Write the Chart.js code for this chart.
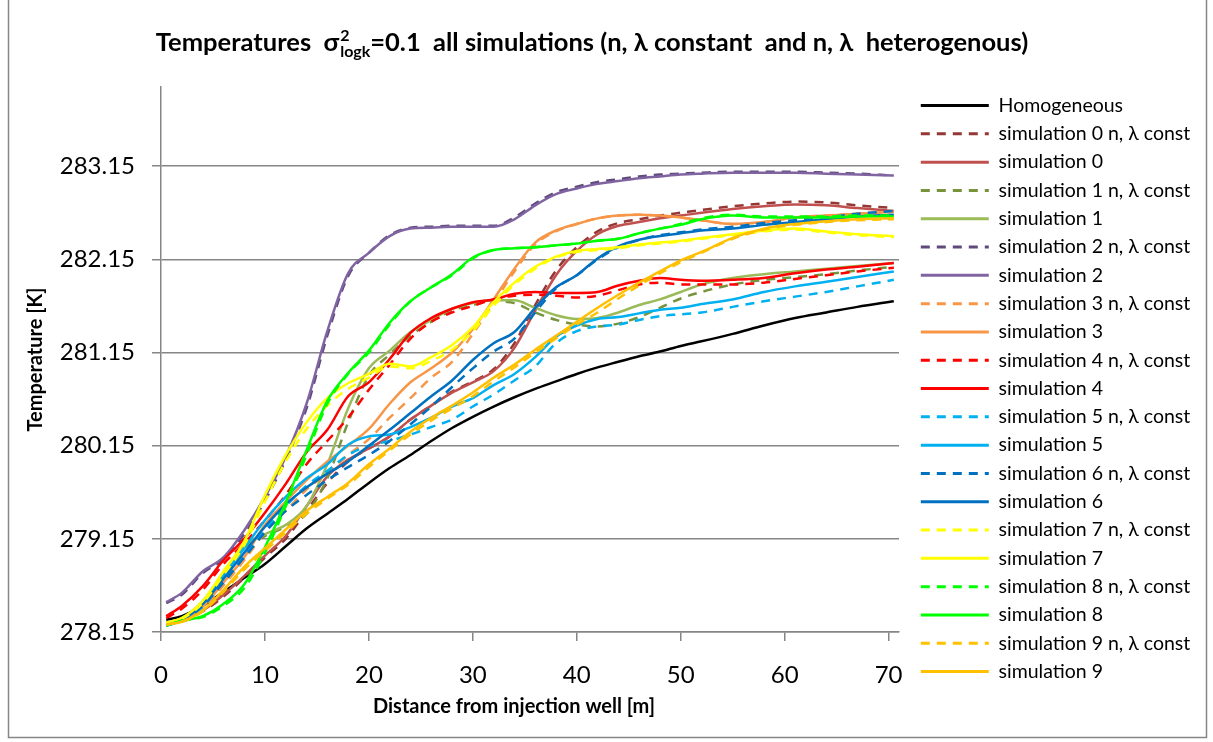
<!DOCTYPE html>
<html>
<head>
<meta charset="utf-8">
<title>Temperatures all simulations</title>
<script src="https://cdn.jsdelivr.net/npm/chart.js@4.4.1/dist/chart.umd.min.js"></script>
<style>
  html, body { margin: 0; padding: 0; background: #ffffff; }
  #wrap { position: relative; width: 1213px; height: 742px; }
</style>
</head>
<body>
<div id="wrap"><canvas id="chart" width="1213" height="742"></canvas></div>
<script>
// Distance from the injection well [m]
const distance = [0.5, 2, 4, 6, 8, 10, 12, 14, 16, 18, 20, 22, 24, 26, 28, 30, 32, 34, 36, 38, 40, 42, 44, 46, 48, 50, 52, 55, 58, 61, 64, 67, 70.5];

// Temperatures [K] along the profile
const homogeneous = [278.28, 278.32, 278.43, 278.58, 278.73, 278.88, 279.07, 279.26, 279.42, 279.58, 279.75, 279.91, 280.05, 280.20, 280.34, 280.46, 280.57, 280.67, 280.76, 280.84, 280.92, 280.99, 281.05, 281.11, 281.16, 281.22, 281.27, 281.35, 281.44, 281.52, 281.58, 281.64, 281.70];

const sim0Const = [278.25, 278.28, 278.37, 278.53, 278.73, 278.95, 279.15, 279.45, 279.75, 279.98, 280.12, 280.25, 280.43, 280.58, 280.73, 280.84, 280.97, 281.25, 281.66, 282.03, 282.28, 282.45, 282.54, 282.58, 282.62, 282.65, 282.68, 282.72, 282.75, 282.77, 282.76, 282.73, 282.70];
const sim0 = [278.25, 278.28, 278.38, 278.55, 278.75, 278.97, 279.18, 279.50, 279.82, 280.00, 280.12, 280.25, 280.43, 280.58, 280.72, 280.83, 280.95, 281.20, 281.60, 281.98, 282.24, 282.42, 282.51, 282.55, 282.59, 282.62, 282.65, 282.69, 282.72, 282.74, 282.73, 282.70, 282.67];

const sim1Const = [278.25, 278.30, 278.46, 278.75, 279.05, 279.18, 279.28, 279.42, 279.80, 280.40, 280.90, 281.13, 281.33, 281.48, 281.60, 281.66, 281.70, 281.68, 281.58, 281.50, 281.45, 281.43, 281.46, 281.53, 281.63, 281.73, 281.80, 281.88, 281.93, 281.96, 281.99, 282.03, 282.07];
const sim1 = [278.25, 278.30, 278.48, 278.78, 279.08, 279.20, 279.30, 279.50, 279.95, 280.55, 280.98, 281.17, 281.37, 281.50, 281.62, 281.68, 281.71, 281.71, 281.63, 281.55, 281.51, 281.52, 281.58, 281.66, 281.72, 281.80, 281.88, 281.95, 281.99, 282.02, 282.05, 282.08, 282.11];

const sim2Const = [278.46, 278.55, 278.78, 278.93, 279.20, 279.56, 280.00, 280.55, 281.33, 281.97, 282.22, 282.41, 282.49, 282.50, 282.51, 282.51, 282.51, 282.60, 282.75, 282.87, 282.93, 282.98, 283.01, 283.04, 283.06, 283.07, 283.08, 283.09, 283.09, 283.09, 283.08, 283.07, 283.05];
const sim2 = [278.47, 278.57, 278.80, 278.95, 279.24, 279.60, 280.03, 280.60, 281.38, 282.00, 282.22, 282.40, 282.48, 282.49, 282.50, 282.50, 282.50, 282.58, 282.73, 282.85, 282.91, 282.96, 282.99, 283.02, 283.04, 283.06, 283.07, 283.08, 283.08, 283.08, 283.07, 283.06, 283.05];

const sim3Const = [278.24, 278.28, 278.40, 278.65, 278.92, 279.22, 279.45, 279.68, 279.85, 280.05, 280.22, 280.45, 280.66, 280.88, 281.05, 281.35, 281.68, 282.02, 282.31, 282.45, 282.53, 282.59, 282.62, 282.63, 282.62, 282.60, 282.57, 282.53, 282.55, 282.60, 282.62, 282.64, 282.66];
const sim3 = [278.24, 278.28, 278.42, 278.68, 278.95, 279.30, 279.55, 279.78, 279.98, 280.15, 280.33, 280.60, 280.83, 280.98, 281.15, 281.40, 281.72, 282.05, 282.33, 282.46, 282.53, 282.59, 282.62, 282.63, 282.62, 282.60, 282.57, 282.53, 282.55, 282.60, 282.62, 282.64, 282.66];

const sim4Const = [278.30, 278.40, 278.60, 278.88, 279.10, 279.35, 279.62, 279.95, 280.20, 280.45, 280.75, 281.02, 281.30, 281.48, 281.58, 281.65, 281.72, 281.76, 281.77, 281.76, 281.74, 281.76, 281.82, 281.88, 281.90, 281.88, 281.88, 281.88, 281.90, 281.94, 281.98, 282.02, 282.06];
const sim4 = [278.32, 278.43, 278.64, 278.92, 279.15, 279.43, 279.74, 280.08, 280.32, 280.68, 280.83, 281.08, 281.36, 281.52, 281.62, 281.69, 281.72, 281.78, 281.80, 281.79, 281.79, 281.80, 281.87, 281.92, 281.95, 281.93, 281.92, 281.93, 281.95, 282.00, 282.04, 282.07, 282.11];

const sim5Const = [278.23, 278.27, 278.42, 278.70, 278.98, 279.25, 279.50, 279.72, 279.88, 280.05, 280.15, 280.20, 280.27, 280.35, 280.43, 280.57, 280.70, 280.85, 281.00, 281.25, 281.38, 281.43, 281.45, 281.50, 281.54, 281.56, 281.58, 281.64, 281.70, 281.75, 281.80, 281.86, 281.93];
const sim5 = [278.24, 278.28, 278.45, 278.75, 279.05, 279.35, 279.60, 279.80, 279.95, 280.16, 280.25, 280.27, 280.35, 280.45, 280.57, 280.66, 280.80, 280.92, 281.10, 281.32, 281.44, 281.51, 281.53, 281.57, 281.61, 281.63, 281.67, 281.72, 281.80, 281.86, 281.91, 281.96, 282.02];

const sim6Const = [278.22, 278.27, 278.43, 278.68, 278.95, 279.22, 279.45, 279.62, 279.78, 279.92, 280.05, 280.20, 280.38, 280.57, 280.78, 280.98, 281.16, 281.30, 281.58, 281.84, 281.98, 282.15, 282.28, 282.36, 282.41, 282.44, 282.47, 282.50, 282.54, 282.57, 282.60, 282.64, 282.67];
const sim6 = [278.22, 278.28, 278.45, 278.72, 279.00, 279.28, 279.52, 279.70, 279.85, 279.98, 280.15, 280.32, 280.50, 280.68, 280.85, 281.07, 281.25, 281.37, 281.63, 281.85, 281.98, 282.16, 282.29, 282.36, 282.40, 282.43, 282.46, 282.48, 282.52, 282.55, 282.58, 282.61, 282.63];

const sim7Const = [278.24, 278.29, 278.46, 278.76, 279.08, 279.55, 279.98, 280.33, 280.58, 280.76, 280.88, 281.00, 280.98, 281.06, 281.18, 281.38, 281.65, 281.88, 282.05, 282.17, 282.23, 282.25, 282.27, 282.30, 282.32, 282.34, 282.37, 282.41, 282.45, 282.47, 282.44, 282.41, 282.39];
const sim7 = [278.25, 278.30, 278.48, 278.80, 279.12, 279.62, 280.05, 280.40, 280.66, 280.82, 280.92, 281.03, 281.00, 281.10, 281.23, 281.42, 281.69, 281.90, 282.07, 282.18, 282.24, 282.26, 282.28, 282.31, 282.33, 282.35, 282.38, 282.42, 282.46, 282.48, 282.45, 282.42, 282.40];

const sim8Const = [278.22, 278.27, 278.31, 278.43, 278.62, 279.00, 279.50, 280.05, 280.60, 280.92, 281.15, 281.45, 281.70, 281.85, 281.98, 282.16, 282.25, 282.27, 282.28, 282.30, 282.32, 282.35, 282.37, 282.43, 282.48, 282.53, 282.59, 282.63, 282.61, 282.61, 282.61, 282.62, 282.62];
const sim8 = [278.22, 278.27, 278.32, 278.45, 278.66, 279.06, 279.54, 280.10, 280.63, 280.93, 281.17, 281.47, 281.70, 281.85, 281.99, 282.17, 282.25, 282.27, 282.28, 282.30, 282.32, 282.35, 282.37, 282.43, 282.48, 282.52, 282.58, 282.62, 282.60, 282.60, 282.60, 282.61, 282.61];

const sim9Const = [278.23, 278.26, 278.37, 278.58, 278.82, 279.02, 279.22, 279.42, 279.58, 279.73, 279.92, 280.10, 280.27, 280.42, 280.55, 280.68, 280.84, 280.99, 281.15, 281.30, 281.45, 281.58, 281.73, 281.87, 282.00, 282.12, 282.22, 282.37, 282.47, 282.52, 282.55, 282.57, 282.58];
const sim9 = [278.23, 278.26, 278.38, 278.60, 278.85, 279.05, 279.25, 279.45, 279.60, 279.75, 279.95, 280.12, 280.30, 280.45, 280.58, 280.72, 280.88, 281.02, 281.18, 281.33, 281.48, 281.63, 281.77, 281.90, 282.02, 282.14, 282.23, 282.38, 282.48, 282.53, 282.56, 282.58, 282.59];

// Axis ticks
const tempTicks = [278.15, 279.15, 280.15, 281.15, 282.15, 283.15];
const distTicks = [0, 10, 20, 30, 40, 50, 60, 70];

// Series names in drawing / legend order
const seriesNames = [
  'Homogeneous',
  'simulation 0 n, \u03bb const', 'simulation 0',
  'simulation 1 n, \u03bb const', 'simulation 1',
  'simulation 2 n, \u03bb const', 'simulation 2',
  'simulation 3 n, \u03bb const', 'simulation 3',
  'simulation 4 n, \u03bb const', 'simulation 4',
  'simulation 5 n, \u03bb const', 'simulation 5',
  'simulation 6 n, \u03bb const', 'simulation 6',
  'simulation 7 n, \u03bb const', 'simulation 7',
  'simulation 8 n, \u03bb const', 'simulation 8',
  'simulation 9 n, \u03bb const', 'simulation 9'
];
const seriesValues = [
  homogeneous,
  sim0Const, sim0, sim1Const, sim1, sim2Const, sim2, sim3Const, sim3, sim4Const, sim4,
  sim5Const, sim5, sim6Const, sim6, sim7Const, sim7, sim8Const, sim8, sim9Const, sim9
];

// Line colours and dash flags, one per series
const lineColors = [
  '#000000',
  '#953735', '#C0504D',
  '#77933C', '#9BBB59',
  '#604A7B', '#8064A2',
  '#F79646', '#F79646',
  '#FF0000', '#FF0000',
  '#00B0F0', '#00B0F0',
  '#0070C0', '#0070C0',
  '#FFFF00', '#FFFF00',
  '#00FF00', '#00FF00',
  '#FFC000', '#FFC000'
];
const lineDashed = seriesNames.map(n => n.indexOf('const') >= 0);

const FONT = "Lato, 'Open Sans', 'DejaVu Sans', sans-serif";
const GRID = '#868686';
const DASH = [9, 7];

const datasets = seriesNames.map((name, i) => ({
  label: name,
  data: distance.map((d, k) => ({ x: d, y: seriesValues[i][k] })),
  borderColor: lineColors[i],
  backgroundColor: lineColors[i],
  borderWidth: 2.5,
  borderDash: lineDashed[i] ? DASH : [],
  pointRadius: 0,
  cubicInterpolationMode: 'monotone',
  order: seriesNames.length - i
}));

// Frame around the whole figure
const framePlugin = {
  id: 'frame',
  beforeDraw(chart) {
    const ctx = chart.ctx;
    ctx.save();
    ctx.fillStyle = '#ffffff';
    ctx.fillRect(0, 0, chart.width, chart.height);
    ctx.strokeStyle = GRID;
    ctx.lineWidth = 1.5;
    ctx.strokeRect(8.5, -5, 1198, 742.5);
    ctx.restore();
  }
};

// Main title (sigma squared with log k index) and distance axis title
const titlePlugin = {
  id: 'sigmaTitle',
  afterDraw(chart) {
    const ctx = chart.ctx;
    ctx.save();
    const big = 'bold 25.5px ' + FONT;
    const small = 'bold 16px ' + FONT;
    const head = 'Temperatures  \u03c3';
    const tail = '=0.1  all simulations (n, \u03bb constant  and n, \u03bb  heterogenous)';
    ctx.font = big;
    const wHead = ctx.measureText(head).width;
    const wTail = ctx.measureText(tail).width;
    ctx.font = small;
    const wSup = ctx.measureText('2').width;
    const wSub = ctx.measureText('logk').width;
    const wMid = Math.max(wSup, wSub) + 1;
    const total = wHead + wMid + wTail;
    const cx = 592;
    const base = 51;
    let x = cx - total / 2;
    ctx.fillStyle = '#000000';
    ctx.textBaseline = 'alphabetic';
    ctx.textAlign = 'left';
    ctx.font = big;
    ctx.fillText(head, x, base);
    x += wHead;
    ctx.font = small;
    ctx.fillText('2', x + 1, base - 10);
    ctx.fillText('logk', x + 1, base + 6);
    x += wMid;
    ctx.font = big;
    ctx.fillText(tail, x, base);

    ctx.font = 'bold 20px ' + FONT;
    ctx.textAlign = 'center';
    ctx.textBaseline = 'middle';
    ctx.fillText('Distance from injection well [m]', 514, 707);
    ctx.restore();
  }
};

// Fixed legend column width and offset from the plot
const legendPlugin = {
  id: 'legendPlace',
  beforeLayout(chart) {
    const lg = chart.legend;
    if (lg && !lg._fixedWidth) {
      const proto = Object.getPrototypeOf(lg);
      lg.fit = function () {
        proto.fit.call(this);
        this.width = 304;
      };
      lg._fixedWidth = true;
    }
  },
  afterLayout(chart) {
    const lg = chart.legend;
    if (lg) {
      lg.left = 912;
      lg.right = lg.left + lg.width;
    }
  }
};

Chart.defaults.font.family = FONT;
Chart.defaults.color = '#000000';

new Chart(document.getElementById('chart'), {
  type: 'line',
  data: { datasets },
  options: {
    responsive: false,
    animation: false,
    devicePixelRatio: 1,
    events: [],
    layout: { padding: { top: 87, right: 10, bottom: 10, left: 10 } },
    plugins: {
      title: { display: false },
      tooltip: { enabled: false },
      legend: {
        display: true,
        position: 'right',
        align: 'start',
        labels: {
          usePointStyle: true,
          pointStyle: 'line',
          pointStyleWidth: 68,
          boxWidth: 68,
          padding: 8.8,
          color: '#000000',
          font: { size: 19.5, family: FONT },
          sort: (a, b) => a.datasetIndex - b.datasetIndex,
          generateLabels: chart => {
            const items = Chart.defaults.plugins.legend.labels.generateLabels(chart);
            items.forEach(it => {
              const ds = chart.data.datasets[it.datasetIndex];
              it.lineDash = ds.borderDash;
              it.lineWidth = 3;
              it.strokeStyle = ds.borderColor;
            });
            return items;
          }
        }
      }
    },
    scales: {
      x: {
        type: 'linear',
        min: 0,
        max: 71,
        afterBuildTicks: s => { s.ticks = distTicks.map(v => ({ value: v })); },
        afterFit: s => { s.height = 100; },
        grid: { drawOnChartArea: false, drawTicks: true, tickLength: 9, color: GRID, lineWidth: 1.5 },
        border: { display: true, color: GRID, width: 1.5 },
        ticks: { font: { size: 24 }, color: '#000000', padding: 20, maxRotation: 0, callback: v => String(v) },
        title: { display: false }
      },
      y: {
        type: 'linear',
        min: 278.15,
        max: 284.0,
        afterBuildTicks: s => { s.ticks = tempTicks.map(v => ({ value: v })); },
        afterFit: s => { s.width = 151; },
        grid: { drawOnChartArea: true, drawTicks: true, tickLength: 9, color: GRID, lineWidth: 1.5 },
        border: { display: true, color: GRID, width: 1.5 },
        ticks: { font: { size: 24 }, color: '#000000', padding: 17, callback: v => Number(v).toFixed(2) },
        title: {
          display: true,
          text: 'Temperature [K]',
          font: { size: 20, weight: 'bold' },
          color: '#000000',
          padding: { top: 14, bottom: 0 }
        }
      }
    }
  },
  plugins: [framePlugin, titlePlugin, legendPlugin]
});
</script>
</body>
</html>
